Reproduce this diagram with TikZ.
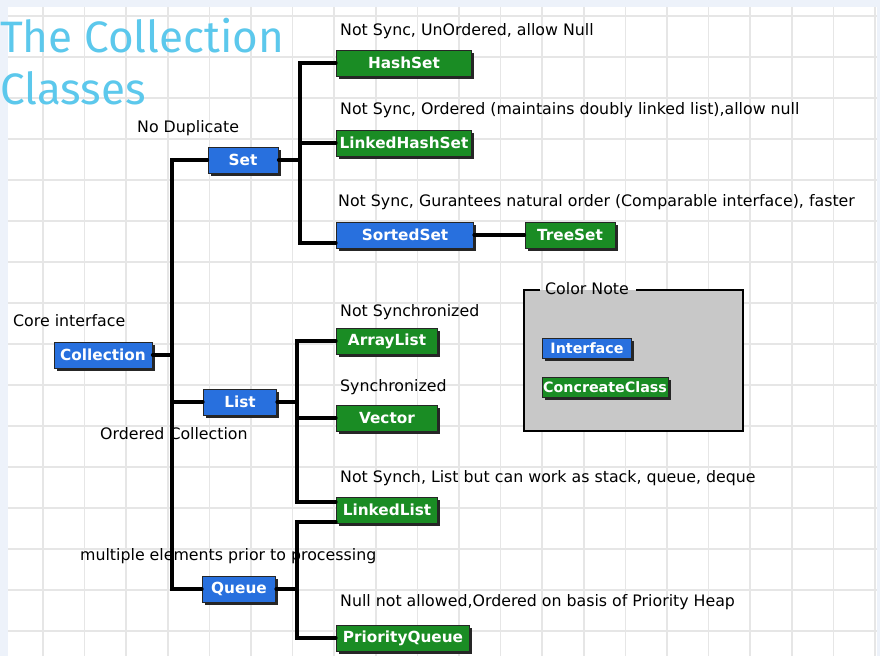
\documentclass[tikz,border=0pt]{standalone}
\usepackage{fontspec}
\setmainfont{DejaVu Sans}
\newfontfamily\titlefont{Fira Sans}
\usetikzlibrary{shadows}

\definecolor{ifblue}{RGB}{40,112,222}
\definecolor{clsgreen}{RGB}{26,140,36}
\definecolor{notegray}{RGB}{200,200,200}
\definecolor{titleblue}{RGB}{92,200,236}
\definecolor{edgeblue}{RGB}{237,242,250}
\definecolor{gridgray}{RGB}{230,230,230}

\tikzset{
  box/.style={draw=black!85, line width=1pt, text=white, minimum height=26pt, inner sep=2pt,
    font=\bfseries\fontsize{15.3}{15.3}\selectfont,
    drop shadow={shadow xshift=2.5pt, shadow yshift=-3pt, opacity=1, fill=black!85}},
  iface/.style={box, fill=ifblue},
  cls/.style={box, fill=clsgreen},
  smallbox/.style={minimum height=20pt, inner sep=1pt, font=\bfseries\fontsize{14.3}{14.3}\selectfont},
  note/.style={anchor=west, inner sep=0pt, font=\fontsize{15.8}{15.8}\selectfont},
  wire/.style={line width=3.2pt, line cap=round},
  gridline/.style={gridgray, line width=1.5pt},
  titletext/.style={anchor=base west, inner sep=0pt, text=titleblue, font=\titlefont\fontsize{44}{44}\selectfont},
}

\begin{document}
\begin{tikzpicture}[x=1pt, y=-1pt]
  % 背景和网格
  \useasboundingbox (0,0) rectangle (880,656);
  \fill[edgeblue] (0,0) rectangle (880,656);
  \fill[white] (8,7) rectangle (877,656);
  \foreach \i in {1,...,21}
    \draw[gridline] (1.4+41.6*\i, 7) -- (1.4+41.6*\i, 656);
  \foreach \j in {0,...,15}
    \draw[gridline] (8, 16+41*\j) -- (877, 16+41*\j);

  % 标题
  \node[titletext] (title1) at (0,52) {The Collection};
  \node[titletext] (title2) at (0,104) {Classes};

  % 说明文字
  \node[note] (ndup) at (137,128) {No Duplicate};
  \node[note] (nhash) at (340,31) {Not Sync, UnOrdered, allow Null};
  \node[note] (nlhash) at (340,110) {Not Sync, Ordered (maintains doubly linked list),allow null};
  \node[note] (nsorted) at (338,202) {Not Sync, Gurantees natural order (Comparable interface), faster};
  \node[note] (ncore) at (13,321) {Core interface};
  \node[note] (narray) at (340,312) {Not Synchronized};
  \node[note] (nvector) at (340,387) {Synchronized};
  \node[note] (nordered) at (100,434) {Ordered Collection};
  \node[note] (nlinked) at (340,478) {Not Synch, List but can work as stack, queue, deque};
  \node[note] (nqueue) at (80,556) {multiple elements prior to processing};
  \node[note] (nprio) at (340,602) {Null not allowed,Ordered on basis of Priority Heap};

  % 接口 (蓝) 和实现类 (绿)
  \node[iface, minimum width=98pt] (coll) at (103,355) {Collection};
  \node[iface, minimum width=70pt] (set) at (243,160) {Set};
  \node[iface, minimum width=73pt] (list) at (240,402) {List};
  \node[iface, minimum width=73pt] (queue) at (239,589) {Queue};
  \node[cls, minimum width=135pt] (hashset) at (404,63) {HashSet};
  \node[cls, minimum width=135pt] (linkedhs) at (404,143) {LinkedHashSet};
  \node[iface, minimum width=137pt] (sortedset) at (405,235) {SortedSet};
  \node[cls, minimum width=90pt] (treeset) at (570,235) {TreeSet};
  \node[cls, minimum width=101pt] (arraylist) at (387,341) {ArrayList};
  \node[cls, minimum width=101pt] (vector) at (387,418) {Vector};
  \node[cls, minimum width=101pt] (linkedlist) at (387,510) {LinkedList};
  \node[cls, minimum width=133pt] (pqueue) at (403,638) {PriorityQueue};

  % 连线
  \coordinate (ctrunk) at (172,355);
  \coordinate (strunk) at (300,160);
  \coordinate (ltrunk) at (297,402);
  \coordinate (qtrunk) at (297,589);
  \draw[wire] (coll.east) -- (ctrunk);
  \draw[wire] (set.west) -| (ctrunk) |- (queue.west);
  \draw[wire] (ctrunk |- list.west) -- (list.west);
  \draw[wire] (set.east) -- (strunk);
  \draw[wire] (hashset.west) -| (strunk) |- ([yshift=-8pt]sortedset.west);
  \draw[wire] (strunk |- linkedhs.west) -- (linkedhs.west);
  \draw[wire] (sortedset.east) -- (treeset.west);
  \draw[wire] (list.east) -- (ltrunk);
  \draw[wire] (arraylist.west) -| (ltrunk) |- ([yshift=8pt]linkedlist.west);
  \draw[wire] (ltrunk |- vector.west) -- (vector.west);
  \draw[wire] (queue.east) -- (qtrunk);
  \draw[wire] ([yshift=-12pt]linkedlist.west) -| (qtrunk) |- (pqueue.west);

  % 颜色说明
  \fill[notegray] (524,290) rectangle (743,431);
  \draw[line width=2pt] (540,290) -- (524,290) -- (524,431) -- (743,431) -- (743,290) -- (636,290);
  \node[note] (ntitle) at (545,289) {Color Note};
  \node[iface, smallbox, minimum width=89pt] (keyif) at (587,348) {Interface};
  \node[cls, smallbox, minimum width=122pt] (keycls) at (605,387) {ConcreateClass};
\end{tikzpicture}
\end{document}
